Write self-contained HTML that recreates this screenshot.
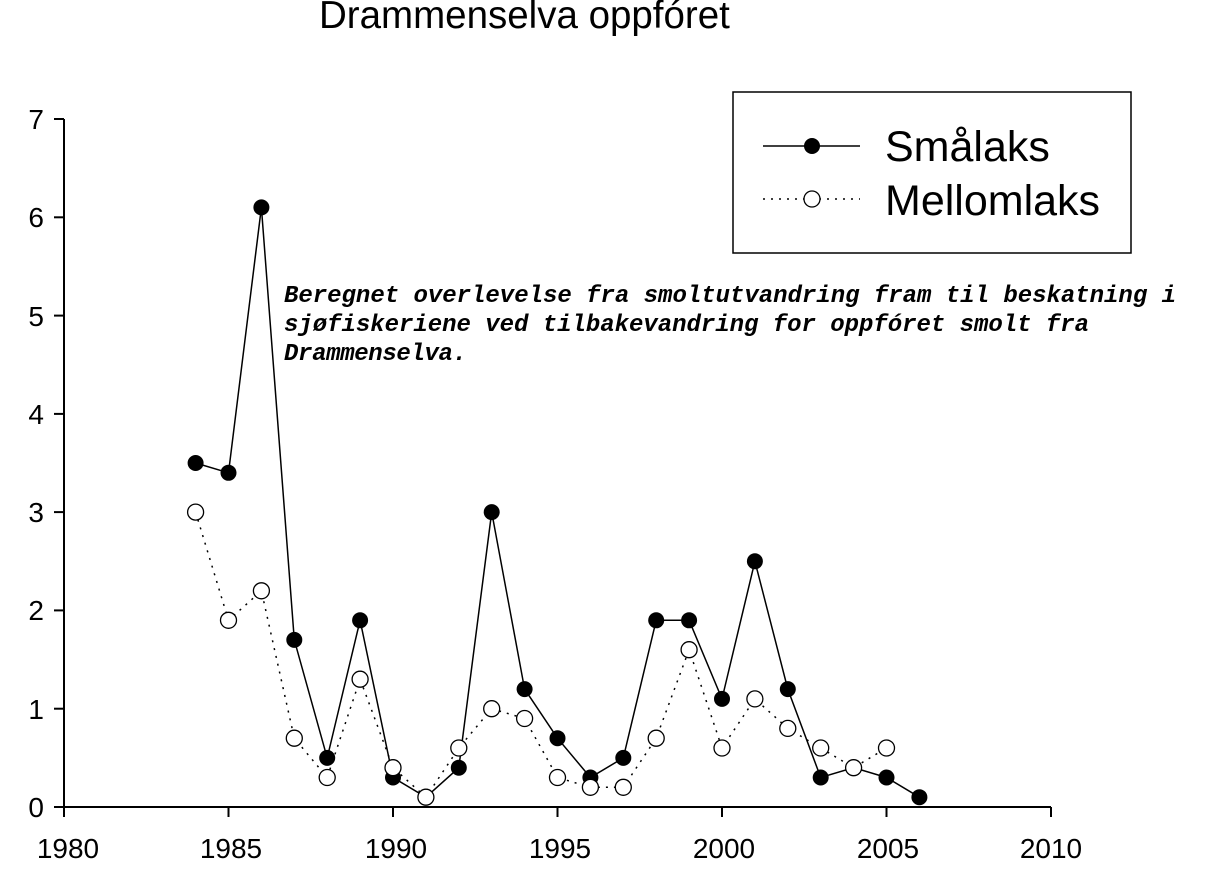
<!DOCTYPE html>
<html><head><meta charset="utf-8"><style>html,body{margin:0;padding:0;background:#fff}</style></head><body>
<svg width="1223" height="887" xmlns="http://www.w3.org/2000/svg" font-family="Liberation Sans, sans-serif">
<rect width="1223" height="887" fill="#fff"/>
<text x="319" y="28" font-size="38.5">Drammenselva oppfóret</text>
<g stroke="#000" stroke-width="2" fill="none">
<line x1="64" y1="119" x2="64" y2="808"/>
<line x1="54" y1="807" x2="1051" y2="807"/>
<line x1="54" y1="119" x2="64" y2="119"/><line x1="54" y1="217.3" x2="64" y2="217.3"/><line x1="54" y1="315.6" x2="64" y2="315.6"/><line x1="54" y1="413.9" x2="64" y2="413.9"/><line x1="54" y1="512.1" x2="64" y2="512.1"/><line x1="54" y1="610.4" x2="64" y2="610.4"/><line x1="54" y1="708.7" x2="64" y2="708.7"/>
<line x1="64" y1="807" x2="64" y2="817"/><line x1="228.5" y1="807" x2="228.5" y2="817"/><line x1="393" y1="807" x2="393" y2="817"/><line x1="557.5" y1="807" x2="557.5" y2="817"/><line x1="722" y1="807" x2="722" y2="817"/><line x1="886.5" y1="807" x2="886.5" y2="817"/><line x1="1051" y1="807" x2="1051" y2="817"/>
</g>
<g font-size="28" text-anchor="end">
<text x="44" y="129">7</text><text x="44" y="227">6</text><text x="44" y="326">5</text><text x="44" y="424">4</text><text x="44" y="522">3</text><text x="44" y="620">2</text><text x="44" y="719">1</text><text x="44" y="817">0</text>
</g>
<g font-size="28" text-anchor="middle">
<text x="68" y="858">1980</text><text x="231" y="858">1985</text><text x="396" y="858">1990</text><text x="560" y="858">1995</text><text x="724" y="858">2000</text><text x="888" y="858">2005</text><text x="1051" y="858">2010</text>
</g>
<g font-family="Liberation Mono, monospace" font-style="italic" font-size="24" font-weight="bold">
<text x="284" y="302" textLength="892">Beregnet overlevelse fra smoltutvandring fram til beskatning i</text>
<text x="284" y="331" textLength="805">sjøfiskeriene ved tilbakevandring for oppfóret smolt fra</text>
<text x="284" y="360" textLength="183">Drammenselva.</text>
</g>
<polyline fill="none" stroke="#000" stroke-width="1.5" points="195.6,463 228.5,472.8 261.4,207.4 294.3,639.9 327.2,757.9 360.1,620.3 393,777.5 425.9,797.2 458.8,767.7 491.7,512.1 524.6,689.1 557.5,738.2 590.4,777.5 623.3,757.9 656.2,620.3 689.1,620.3 722,698.9 754.9,561.3 787.8,689.1 820.7,777.5 853.6,767.7 886.5,777.5 919.4,797.2"/>
<g fill="#000">
<circle cx="195.6" cy="463" r="8"/><circle cx="228.5" cy="472.8" r="8"/><circle cx="261.4" cy="207.4" r="8"/><circle cx="294.3" cy="639.9" r="8"/><circle cx="327.2" cy="757.9" r="8"/><circle cx="360.1" cy="620.3" r="8"/><circle cx="393" cy="777.5" r="8"/><circle cx="425.9" cy="797.2" r="8"/><circle cx="458.8" cy="767.7" r="8"/><circle cx="491.7" cy="512.1" r="8"/><circle cx="524.6" cy="689.1" r="8"/><circle cx="557.5" cy="738.2" r="8"/><circle cx="590.4" cy="777.5" r="8"/><circle cx="623.3" cy="757.9" r="8"/><circle cx="656.2" cy="620.3" r="8"/><circle cx="689.1" cy="620.3" r="8"/><circle cx="722" cy="698.9" r="8"/><circle cx="754.9" cy="561.3" r="8"/><circle cx="787.8" cy="689.1" r="8"/><circle cx="820.7" cy="777.5" r="8"/><circle cx="853.6" cy="767.7" r="8"/><circle cx="886.5" cy="777.5" r="8"/><circle cx="919.4" cy="797.2" r="8"/>
</g>
<polyline fill="none" stroke="#000" stroke-width="1.5" stroke-dasharray="2,6" points="195.6,512.1 228.5,620.3 261.4,590.8 294.3,738.2 327.2,777.5 360.1,679.2 393,767.7 425.9,797.2 458.8,748 491.7,708.7 524.6,718.5 557.5,777.5 590.4,787.3 623.3,787.3 656.2,738.2 689.1,649.7 722,748 754.9,698.9 787.8,728.4 820.7,748 853.6,767.7 886.5,748"/>
<g fill="#fff" stroke="#000" stroke-width="1.3">
<circle cx="195.6" cy="512.1" r="8"/><circle cx="228.5" cy="620.3" r="8"/><circle cx="261.4" cy="590.8" r="8"/><circle cx="294.3" cy="738.2" r="8"/><circle cx="327.2" cy="777.5" r="8"/><circle cx="360.1" cy="679.2" r="8"/><circle cx="393" cy="767.7" r="8"/><circle cx="425.9" cy="797.2" r="8"/><circle cx="458.8" cy="748" r="8"/><circle cx="491.7" cy="708.7" r="8"/><circle cx="524.6" cy="718.5" r="8"/><circle cx="557.5" cy="777.5" r="8"/><circle cx="590.4" cy="787.3" r="8"/><circle cx="623.3" cy="787.3" r="8"/><circle cx="656.2" cy="738.2" r="8"/><circle cx="689.1" cy="649.7" r="8"/><circle cx="722" cy="748" r="8"/><circle cx="754.9" cy="698.9" r="8"/><circle cx="787.8" cy="728.4" r="8"/><circle cx="820.7" cy="748" r="8"/><circle cx="853.6" cy="767.7" r="8"/><circle cx="886.5" cy="748" r="8"/>
</g>
<rect x="733" y="92" width="398" height="161" fill="#fff" stroke="#000" stroke-width="1.5"/>
<line x1="763" y1="146" x2="860" y2="146" stroke="#000" stroke-width="1.5"/>
<circle cx="812" cy="146" r="8" fill="#000"/>
<line x1="763" y1="199" x2="860" y2="199" stroke="#000" stroke-width="1.5" stroke-dasharray="2,6"/>
<circle cx="812" cy="199" r="8" fill="#fff" stroke="#000" stroke-width="1.3"/>
<text x="885" y="161" font-size="43">Smålaks</text>
<text x="885" y="215" font-size="43">Mellomlaks</text>
</svg>
</body></html>
